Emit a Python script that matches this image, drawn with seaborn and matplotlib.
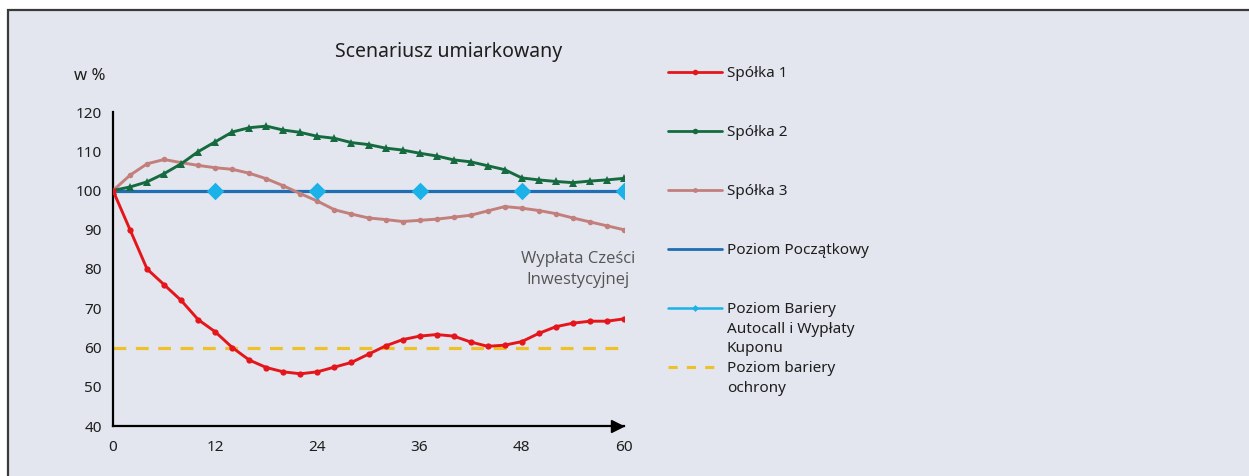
import matplotlib
matplotlib.use("Agg")
import matplotlib.pyplot as plt
from matplotlib.lines import Line2D
from matplotlib.patches import Rectangle
import seaborn as sns
import pandas as pd

# ---------------- data ----------------
months = [0, 2, 4, 6, 8, 10, 12, 14, 16, 18, 20, 22, 24, 26, 28, 30,
          32, 34, 36, 38, 40, 42, 44, 46, 48, 50, 52, 54, 56, 58, 60]
spolka1 = [100, 90, 80, 76, 72, 67.1, 64, 60, 56.8, 54.9, 53.8, 53.3, 53.8, 55, 56.2, 58.3,
           60.4, 62.0, 62.9, 63.3, 62.9, 61.4, 60.3, 60.6, 61.5, 63.6, 65.3, 66.2, 66.7, 66.7, 67.3]
spolka2 = [100, 100.9, 102.2, 104.3, 106.8, 109.9, 112.4, 114.9, 116.0, 116.4, 115.4, 114.8, 113.8, 113.3, 112.2, 111.7,
           110.8, 110.3, 109.5, 108.8, 107.8, 107.3, 106.3, 105.3, 103.2, 102.7, 102.3, 102.0, 102.4, 102.7, 103.1]
spolka3 = [100, 103.9, 106.8, 107.9, 107.1, 106.4, 105.8, 105.4, 104.4, 103.0, 101.2, 99.2, 97.3, 95.1, 94.0, 93.0,
           92.6, 92.1, 92.4, 92.7, 93.2, 93.7, 94.8, 95.9, 95.5, 94.9, 94.1, 93.0, 92.0, 91.0, 90.0]
initial_x = [0, 60]
initial_y = [100, 100]
autocall_x = [12, 24, 36, 48, 60]
autocall_y = [100, 100, 100, 100, 100]
protection_x = [0, 60]
protection_y = [60, 60]
x_ticks = [0, 12, 24, 36, 48, 60]
y_ticks = [40, 50, 60, 70, 80, 90, 100, 110, 120]

title = "Scenariusz umiarkowany"
unit_label = "w %"
annotation = "Wypłata Cześci\nInwestycyjnej"
legend_labels = ["Spółka 1", "Spółka 2", "Spółka 3", "Poziom Początkowy",
                 "Poziom Bariery\nAutocall i Wypłaty\nKuponu", "Poziom bariery\nochrony"]

# ---------------- style ----------------
RED = "#E5151C"
GREEN = "#156B3F"
BROWN = "#C27F7B"
BLUE = "#1F6DB3"
CYAN = "#1AB2E8"
YELLOW = "#EEC12B"
BG = "#E3E6EE"
TXT = "#1E1E1E"

sns.set_theme(style="white")
plt.rcParams["font.family"] = ["Noto Sans", "DejaVu Sans"]

W, H = 1249, 476
fig = plt.figure(figsize=(W / 100, H / 100), dpi=100, facecolor="white")
panel = Rectangle((8 / W, -0.1), 1.2, (H - 10) / H + 0.1, transform=fig.transFigure,
                  facecolor=BG, edgecolor="#3a3a3a", linewidth=1.6, zorder=-10)
fig.add_artist(panel)

ax = fig.add_axes([113 / W, 1 - 426 / H, (624 - 113) / W, (426 - 112) / H])
ax.set_facecolor("none")

df1 = pd.DataFrame({"m": months, "v": spolka1})
df2 = pd.DataFrame({"m": months, "v": spolka2})
df3 = pd.DataFrame({"m": months, "v": spolka3})

sns.lineplot(x=initial_x, y=initial_y, ax=ax, color=BLUE, linewidth=2.3, zorder=2)
sns.lineplot(x=protection_x, y=protection_y, ax=ax, color=YELLOW, linewidth=2.3,
             zorder=2).lines[-1].set_dashes([4, 3])
sns.lineplot(data=df3, x="m", y="v", ax=ax, color=BROWN, linewidth=2.1, marker="o",
             markersize=4, markeredgewidth=0, zorder=3)
sns.lineplot(data=df2, x="m", y="v", ax=ax, color=GREEN, linewidth=2.1, marker="^",
             markersize=5.5, markeredgewidth=0, zorder=4)
sns.lineplot(data=df1, x="m", y="v", ax=ax, color=RED, linewidth=2.1, marker="o",
             markersize=4.5, markeredgewidth=0, zorder=5)
sns.scatterplot(x=autocall_x, y=autocall_y, ax=ax, color=CYAN, marker="D", s=80,
                linewidth=0, zorder=6)

ax.set_xlim(0, 60)
ax.set_ylim(40, 120)
ax.set_xticks(x_ticks)
ax.set_yticks(y_ticks)
ax.set_xlabel("")
ax.set_ylabel("")
for s in ["top", "right"]:
    ax.spines[s].set_visible(False)
for s in ["left", "bottom"]:
    ax.spines[s].set_color("black")
    ax.spines[s].set_linewidth(1.6)
ax.tick_params(axis="both", direction="inout", length=8, width=1.3, color="black",
               labelsize=11, labelcolor=TXT, pad=4)
ax.tick_params(axis="x", pad=6)
# arrow head at end of x axis
ax.plot([0.987], [0], marker=">", color="black", markersize=9, transform=ax.transAxes,
        clip_on=False, zorder=7)

ax.text(54.6, 79.8, annotation, ha="center", va="center", fontsize=12, color="#555555",
        linespacing=1.4, family=["Open Sans", "DejaVu Sans"])

fig.text(449 / W, 1 - 52 / H, title, ha="center", va="center", fontsize=14, color=TXT)
fig.text(74 / W, 1 - 76 / H, unit_label, ha="left", va="center", fontsize=12, color=TXT)

# legend: first lines in legend, continuation lines placed below
handles = [
    Line2D([], [], color=RED, lw=2, marker="o", markersize=4, markeredgewidth=0),
    Line2D([], [], color=GREEN, lw=2, marker="o", markersize=4, markeredgewidth=0),
    Line2D([], [], color=BROWN, lw=2, marker="o", markersize=3.5, markeredgewidth=0),
    Line2D([], [], color=BLUE, lw=2),
    Line2D([], [], color=CYAN, lw=1.8, marker="D", markersize=3.5, markeredgewidth=0),
    Line2D([], [], color=YELLOW, lw=2.2, dashes=[3, 3]),
]
first_lines = [lab.split("\n")[0] for lab in legend_labels]
leg = ax.legend(handles, first_lines, loc="upper left", bbox_to_anchor=(668 / W, 1 - 66 / H),
                bbox_transform=fig.transFigure, frameon=False, fontsize=11, labelspacing=2.885,
                handlelength=3.55, handletextpad=0.3, borderpad=0, borderaxespad=0)
for t in leg.get_texts():
    t.set_color(TXT)

fig.canvas.draw()
renderer = fig.canvas.get_renderer()
line_px = 19.5
for t, lab in zip(leg.get_texts(), legend_labels):
    extra = lab.split("\n")[1:]
    if not extra:
        continue
    bb = t.get_window_extent(renderer)
    yc = (bb.y0 + bb.y1) / 2
    for k, line in enumerate(extra, start=1):
        fig.text(bb.x0 / W, (yc - k * line_px) / H, line, ha="left", va="center",
                 fontsize=11, color=TXT)

fig.savefig("out.png", dpi=100, facecolor=fig.get_facecolor())
